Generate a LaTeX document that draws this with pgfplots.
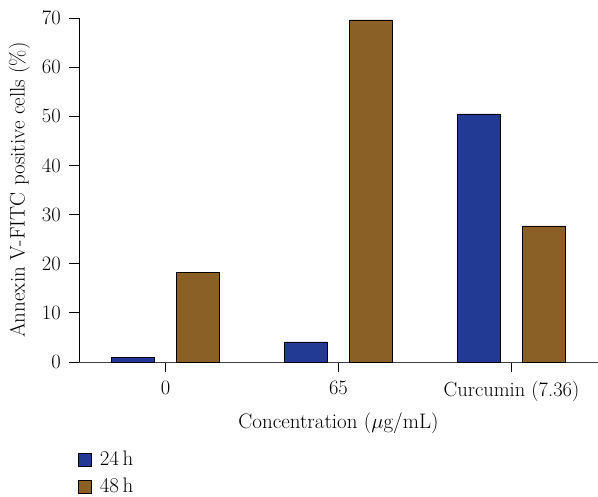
\documentclass[border=0pt]{standalone}
\usepackage{pgfplots}
\pgfplotsset{compat=1.18}
\definecolor{barblue}{HTML}{233A94}
\definecolor{barbrown}{HTML}{8B6027}
\begin{document}
\fontsize{21}{25}\selectfont
\begin{tikzpicture}
\useasboundingbox (-79pt,-135pt) rectangle (519pt,362pt);
\begin{axis}[
  at={(0,0)}, anchor=south west,
  scale only axis, width=519pt, height=344pt,
  ybar=22pt, bar width=43pt,
  xmin=-0.5, xmax=2.5, ymin=0, ymax=70,
  xtick={0,1,2}, xticklabels={0,65,Curcumin (7.36)},
  ytick={0,10,...,70},
  axis x line=bottom, axis y line=left,
  axis line style={-, line width=0.9pt},
  x axis line style={black!75},
  tick align=outside, major tick length=10pt,
  tick style={black, line width=0.9pt},
  /pgf/number format/assume math mode=true,
  ticklabel style={font=\fontsize{20.5}{24}\selectfont},
  label style={font=\fontsize{21}{25}\selectfont},
  xticklabel style={yshift=-2pt},
  yticklabel style={xshift=-1pt},
  xlabel={Concentration ($\mu$g/mL)},
  ylabel={Annexin V-FITC positive cells (\%)},
  xlabel style={yshift=3pt},
  ylabel style={yshift=-2pt},
  legend style={at={(axis description cs:0,0)}, anchor=north west, yshift=-85pt, xshift=-4pt,
    draw=none, fill=none, font=\fontsize{21}{25}\selectfont, row sep=5pt,
    legend cell align=left},
  legend image code/.code={\draw[#1, draw=black, line width=0.6pt] (0pt,-6.5pt) rectangle (13pt,6.5pt); \path (0pt,0pt) (19pt,0pt);},
  clip=false,
]
\addplot[fill=barblue, draw=black, line width=0.6pt] coordinates {(0,1.0) (1,4.1) (2,50.5)};
\addplot[fill=barbrown, draw=black, line width=0.6pt] coordinates {(0,18.3) (1,69.6) (2,27.7)};
\legend{24\,h, 48\,h}
\end{axis}
\end{tikzpicture}
\end{document}
